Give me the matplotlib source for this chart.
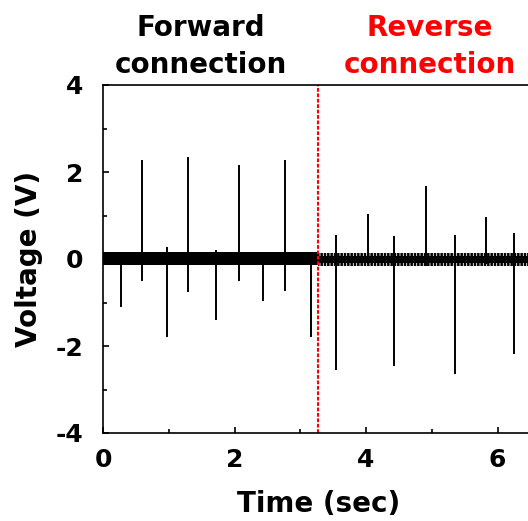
import matplotlib.pyplot as plt

plt.rcParams['font.family'] = ['DejaVu Sans']
plt.rcParams['font.weight'] = 'bold'
plt.rcParams['axes.unicode_minus'] = False
plt.rcParams['hatch.linewidth'] = 1.8

# spikes, forward connection (time in s, peak up, peak down in V)
fwd_t = [0.27, 0.60, 0.98, 1.30, 1.72, 2.07, 2.43, 2.77, 3.16]
fwd_hi = [0.10, 2.28, 0.28, 2.34, 0.20, 2.15, 0.10, 2.28, 0.10]
fwd_lo = [-1.10, -0.50, -1.80, -0.77, -1.40, -0.50, -0.96, -0.73, -1.79]

# spikes, reverse connection
rev_t = [3.54, 4.03, 4.43, 4.91, 5.36, 5.82, 6.25]
rev_hi = [0.56, 1.03, 0.53, 1.68, 0.56, 0.97, 0.60]
rev_lo = [-2.55, -0.12, -2.45, -0.17, -2.65, -0.12, -2.19]

# baseline noise band
fwd_band_t = [0.0, 3.27]
fwd_band = [-0.14, 0.16]
rev_band_t = [3.27, 6.5]
rev_band = [-0.16, 0.14]
rev_core = [-0.09, 0.07]

switch_t = 3.27

fig = plt.figure(figsize=(5.28, 5.21), dpi=100)
ax = fig.add_axes([103/528, 88/521, 427.4/528, 348/521])

# baseline
ax.fill_between(fwd_band_t, fwd_band[0], fwd_band[1], color='black', linewidth=0)
ax.fill_between(rev_band_t, rev_band[0], rev_band[1], facecolor='none',
                edgecolor='black', hatch='|||||', linewidth=0)
ax.fill_between(rev_band_t, rev_core[0], rev_core[1], color='black', linewidth=0)

# spikes
for t, hi, lo in zip(fwd_t + rev_t, fwd_hi + rev_hi, fwd_lo + rev_lo):
    ax.plot([t, t], [lo, hi], color='black', lw=1.4, solid_capstyle='butt')

ax.axvline(switch_t, color='red', lw=1.5, ls=(0, (1.8, 0.8)))

ax.set_xlim(0, 6.5)
ax.set_ylim(-4, 4)
ax.set_xticks([0, 2, 4, 6])
ax.set_xticks([1, 3, 5], minor=True)
ax.set_yticks([-4, -2, 0, 2, 4])
ax.set_yticks([-3, -1, 1, 3], minor=True)
ax.tick_params(which='both', direction='in', width=1.2, labelsize=18)
ax.tick_params(axis='x', pad=11)
ax.tick_params(axis='y', pad=14)
ax.tick_params(which='major', length=4.5)
ax.tick_params(which='minor', length=3)
for s in ax.spines.values():
    s.set_linewidth(1.2)

ax.set_xlabel('Time (sec)', fontsize=20, fontweight='bold')
ax.set_ylabel('Voltage (V)', fontsize=20, fontweight='bold')
ax.xaxis.set_label_coords(0.505, -0.165)
ax.yaxis.set_label_coords(-0.14, 0.5)

fig.text(0.381, 0.911, 'Forward\nconnection', ha='center', va='center',
         fontsize=20, fontweight='bold', color='black', linespacing=1.38)
fig.text(0.814, 0.911, 'Reverse\nconnection', ha='center', va='center',
         fontsize=20, fontweight='bold', color='red', linespacing=1.38)

fig.savefig('out.png', dpi=100)
